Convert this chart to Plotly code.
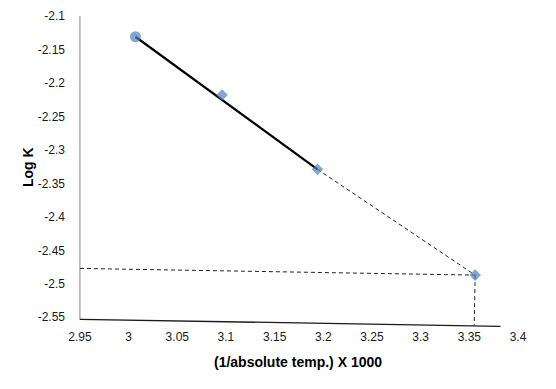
import plotly.graph_objects as go

# Data
x_vals = [3.007, 3.096, 3.194, 3.356]
y_vals = [-2.131, -2.218, -2.329, -2.487]

# fitted (solid) segment through first three points
fit_x = [3.007, 3.194]
fit_y = [-2.131, -2.329]

# dashed extrapolation to the last point
ext_x = [3.194, 3.356]
ext_y = [-2.329, -2.487]

# dashed guide lines
guide_h_x = [2.95, 3.356]
guide_h_y = [-2.477, -2.487]
guide_v_x = [3.356, 3.355]
guide_v_y = [-2.487, -2.562]

# drawn axis lines
xaxis_line_x = [2.95, 3.382]
xaxis_line_y = [-2.553, -2.5635]
yaxis_line_x = [2.95, 2.95]
yaxis_line_y = [-2.1, -2.554]

x_ticks = [2.95, 3.0, 3.05, 3.1, 3.15, 3.2, 3.25, 3.3, 3.35, 3.4]
x_tick_text = ["2.95", "3", "3.05", "3.1", "3.15", "3.2", "3.25", "3.3", "3.35", "3.4"]
y_ticks = [-2.1, -2.15, -2.2, -2.25, -2.3, -2.35, -2.4, -2.45, -2.5, -2.55]
y_tick_text = ["-2.1", "-2.15", "-2.2", "-2.25", "-2.3", "-2.35", "-2.4", "-2.45", "-2.5", "-2.55"]

x_title = "(1/absolute temp.) X 1000"
y_title = "Log K"

FONT = "Liberation Sans"

fig = go.Figure()
fig.add_trace(go.Scatter(x=yaxis_line_x, y=yaxis_line_y, mode="lines",
                         line=dict(color="#868686", width=1), hoverinfo="skip"))
fig.add_trace(go.Scatter(x=xaxis_line_x, y=xaxis_line_y, mode="lines",
                         line=dict(color="#1a1a1a", width=1.3), hoverinfo="skip"))
fig.add_trace(go.Scatter(x=guide_h_x, y=guide_h_y, mode="lines",
                         line=dict(color="#222222", width=1, dash="4px,3px")))
fig.add_trace(go.Scatter(x=guide_v_x, y=guide_v_y, mode="lines",
                         line=dict(color="#222222", width=1, dash="4px,3px")))
fig.add_trace(go.Scatter(x=ext_x, y=ext_y, mode="lines",
                         line=dict(color="#222222", width=1, dash="4px,3px")))
fig.add_trace(go.Scatter(x=fit_x, y=fit_y, mode="lines",
                         line=dict(color="black", width=2.2)))
fig.add_trace(go.Scatter(x=x_vals, y=y_vals, mode="markers",
                         marker=dict(color="#4F81BD",
                                     symbol=["circle", "diamond", "diamond", "diamond"],
                                     size=[11, 9, 9, 9], line=dict(width=0))))

# page body has an 8px default margin, so the figure is 8px smaller and shifted
fig.update_layout(
    width=548, height=381,
    margin=dict(l=70, r=38, t=8, b=61),
    paper_bgcolor="white", plot_bgcolor="white",
    showlegend=False,
    font=dict(family=FONT, size=12, color="#1a1a1a"),
    xaxis=dict(range=[2.948, 3.4], tickvals=x_ticks, ticktext=x_tick_text,
               showgrid=False, zeroline=False, showline=False, ticks="",
               automargin=False,
               tickfont=dict(size=12, family=FONT),
               title=dict(text="<b>" + x_title + "</b>",
                          font=dict(size=14, family=FONT, color="black"), standoff=14)),
    yaxis=dict(range=[-2.566, -2.1], tickvals=y_ticks, ticktext=y_tick_text,
               showgrid=False, zeroline=False, showline=False, ticks="",
               automargin=False, ticklabelstandoff=12,
               tickfont=dict(size=12, family=FONT)),
    annotations=[dict(text="<b>" + y_title + "</b>", xref="paper", yref="paper",
                      x=-0.1136, y=0.516, xanchor="center", yanchor="middle",
                      textangle=-90, showarrow=False,
                      font=dict(size=14, family=FONT, color="black"))],
)

fig.write_html("out.html")
